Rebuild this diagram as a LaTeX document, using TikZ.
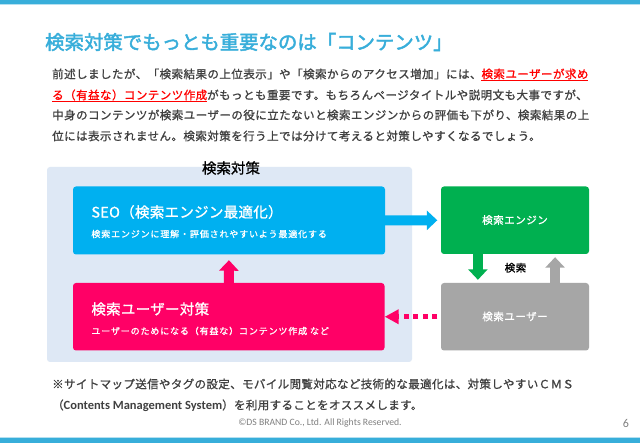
\documentclass[tikz,border=0pt]{standalone}
\usepackage{fontspec}
\usetikzlibrary{arrows.meta,calc}
\setmainfont{Noto Sans CJK JP}[BoldFont={Noto Sans CJK JP},BoldFeatures={FakeBold=1}]
\newfontfamily\latinf{Carlito}
\newfontfamily\titlef{Noto Sans CJK JP}[FakeBold=2.2]
\definecolor{barblue}{HTML}{38AEDA}
\definecolor{barlight}{HTML}{B5E0F0}
\definecolor{panelblue}{HTML}{DEE8F5}
\definecolor{seoblue}{HTML}{00B0F0}
\definecolor{userpink}{HTML}{FF0066}
\definecolor{enggreen}{HTML}{00B050}
\definecolor{usergray}{HTML}{A6A6A6}
\definecolor{bodygray}{HTML}{404040}
\newcommand\sized[3]{{\fontsize{#1}{#1}\selectfont\addfontfeature{LetterSpace=#2}#3}}
\tikzset{
  x=1pt,y=-1pt,
  panelbox/.style={rectangle,rounded corners=3pt,inner sep=0pt,draw=none},
  txt/.style={inner sep=0pt,anchor=west},
  blockarrow/.style={line width=10pt,draw=#1,-{Triangle[length=10.5pt,width=19pt,fill=#1]}},
}
\begin{document}
\begin{tikzpicture}
\useasboundingbox (0,0) rectangle (640,443);
\fill[white] (0,0) rectangle (640,443);
\fill[barlight] (0,0) rectangle (640,5.5);
\fill[barblue] (0,0) rectangle (640,4.5);
\fill[barlight] (0,437.5) rectangle (640,443);
\fill[barblue] (0,438.5) rectangle (640,443);

\node[txt,text=barblue] (title) at (45,42) {\titlef\fontsize{19.4}{19.4}\selectfont 検索対策でもっとも重要なのは「コンテンツ」};

\node[txt,text=bodygray] (l1) at (52,74) {\sized{11.5}{4}{\bfseries 前述しましたが、「検索結果の上位表示」や「検索からのアクセス増加」には、\textcolor{red}{検索ユーザーが求め}}};
\node[txt,text=bodygray] (l2) at (52,95) {\sized{11.5}{4}{\bfseries \textcolor{red}{る（有益な）コンテンツ作成}がもっとも重要です。もちろんページタイトルや説明文も大事ですが、}};
\node[txt,text=bodygray] (l3) at (52,115) {\sized{11.5}{4}{\bfseries 中身のコンテンツが検索ユーザーの役に立たないと検索エンジンからの評価も下がり、検索結果の上}};
\node[txt,text=bodygray] (l4) at (52,136) {\sized{11.5}{4}{\bfseries 位には表示されません。検索対策を行う上では分けて考えると対策しやすくなるでしょう。}};
\draw[red,line width=0.9pt] (481,80.5) -- (588,80.5);
\draw[red,line width=0.9pt] (52,101) -- (207,101);

\node[panelbox,fill=panelblue,minimum width=365,minimum height=195] (panel) at (229.5,264.5) {};
\node[inner sep=0pt] (paneltitle) at (231,168) {\sized{14.5}{0}{\bfseries 検索対策}};

\node[panelbox,fill=seoblue,minimum width=312,minimum height=68] (seo) at (229,220.5) {};
\node[panelbox,fill=userpink,minimum width=311.5,minimum height=67.5] (sys) at (228.75,316.75) {};
\node[panelbox,fill=enggreen,minimum width=148,minimum height=67.5] (eng) at (515,220.25) {};
\node[panelbox,fill=usergray,minimum width=148,minimum height=67.5] (usr) at (515,316.75) {};

\node[txt,text=white] (seot) at (91.2,212) {\sized{14.5}{2}{\bfseries SEO（検索エンジン最適化）}};
\node[txt,text=white] (seos) at (91.2,234) {\sized{9}{9.5}{\bfseries 検索エンジンに理解・評価されやすいよう最適化する}};
\node[txt,text=white] (syst) at (91.2,309) {\sized{14.5}{2}{\bfseries 検索ユーザー対策}};
\node[txt,text=white] (syss) at (91.2,331) {\sized{9}{9.5}{\bfseries ユーザーのためになる（有益な）コンテンツ作成 など}};
\node[inner sep=0pt,text=white] (engt) at (515,220) {\sized{10.5}{5}{\bfseries 検索エンジン}};
\node[inner sep=0pt,text=white] (usrt) at (515,316.5) {\sized{10.5}{5}{\bfseries 検索ユーザー}};
\node[inner sep=0pt] (kensaku) at (515.5,267.7) {\sized{10.5}{5}{\bfseries 検索}};

\coordinate (gdowna) at ($(eng.south west)!0.25!(eng.south east)$);
\coordinate (gdownb) at ($(usr.north west)!0.25!(usr.north east)$);
\coordinate (gupa) at ($(usr.north west)!0.77!(usr.north east)$);
\coordinate (gupb) at ($(eng.south west)!0.77!(eng.south east)$);

\draw[blockarrow=seoblue,shorten >=3.5pt] (seo.east) -- (eng.west);
\draw[blockarrow=userpink,shorten >=5.5pt] (sys.north) -- (seo.south);
\draw[blockarrow=enggreen,shorten >=3pt] (gdowna) -- (gdownb);
\draw[blockarrow=usergray,shorten >=3pt] (gupa) -- (gupb);
\draw[draw=userpink,line width=5pt,dash pattern=on 5pt off 4.6pt,shorten <=3.5pt,
  -{Triangle[length=14pt,width=14pt,fill=userpink]}] (usr.west) -- (sys.east);

\node[txt,text=bodygray] (n1) at (52,384) {\sized{11.5}{3.2}{\bfseries ※サイトマップ送信やタグの設定、モバイル閲覧対応など技術的な最適化は、対策しやすいＣＭＳ}};
\node[txt,text=bodygray] (n2) at (52,405.5) {\sized{11.5}{3.2}{\bfseries （{\latinf\fontsize{12.5}{12.5}\selectfont\addfontfeature{LetterSpace=0}Contents Management System}）を利用することをオススメします。}};
\node[inner sep=0pt,text=gray] (copy) at (320,423) {\latinf\fontsize{9.7}{9.7}\selectfont ©DS BRAND Co., Ltd. All Rights Reserved.};
\node[inner sep=0pt,text=gray] (page) at (626,423) {\latinf\fontsize{12}{12}\selectfont 6};
\end{tikzpicture}
\end{document}
